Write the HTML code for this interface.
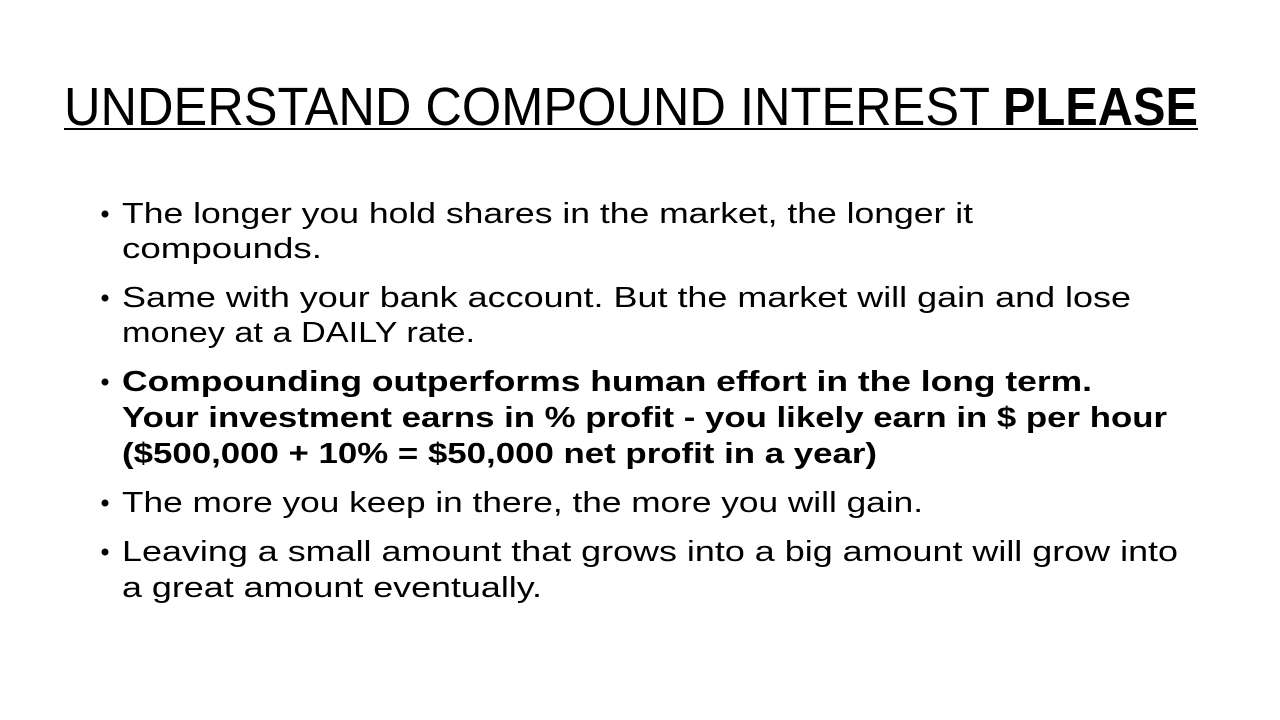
<!DOCTYPE html>
<html><head><meta charset="utf-8"><style>
html,body{margin:0;padding:0;background:#fff;width:1280px;height:720px;overflow:hidden}
svg{display:block}
text{font-family:"Liberation Sans",sans-serif;fill:#000}
</style></head><body>
<svg width="1280" height="720" viewBox="0 0 1280 720">
<rect width="1280" height="720" fill="#fff"/>
<g>
<text x="64" y="125" font-size="54" textLength="926" lengthAdjust="spacingAndGlyphs">UNDERSTAND COMPOUND INTEREST</text>
<text x="1003" y="125" font-size="54" font-weight="bold" textLength="195" lengthAdjust="spacingAndGlyphs">PLEASE</text>
<rect x="64" y="128" width="1134" height="2" fill="#000"/>
</g>
<g font-size="29">
<g>
<circle cx="105" cy="214" r="3.5" fill="#000"/>
<text x="122" y="223" textLength="851" lengthAdjust="spacingAndGlyphs">The longer you hold shares in the market, the longer it</text>
<text x="122" y="258" textLength="200" lengthAdjust="spacingAndGlyphs">compounds.</text>
</g>
<g>
<circle cx="105" cy="298" r="3.5" fill="#000"/>
<text x="122" y="307" textLength="1009" lengthAdjust="spacingAndGlyphs">Same with your bank account. But the market will gain and lose</text>
<text x="122" y="342" textLength="353" lengthAdjust="spacingAndGlyphs">money at a DAILY rate.</text>
</g>
<g font-weight="bold">
<circle cx="105" cy="382" r="3.5" fill="#000"/>
<text x="122" y="391" textLength="970" lengthAdjust="spacingAndGlyphs">Compounding outperforms human effort in the long term.</text>
<text x="122" y="427" textLength="1045" lengthAdjust="spacingAndGlyphs">Your investment earns in % profit - you likely earn in $ per hour</text>
<text x="122" y="463" textLength="755" lengthAdjust="spacingAndGlyphs">($500,000 + 10% = $50,000 net profit in a year)</text>
</g>
<g>
<circle cx="105" cy="503" r="3.5" fill="#000"/>
<text x="122" y="512" textLength="801" lengthAdjust="spacingAndGlyphs">The more you keep in there, the more you will gain.</text>
</g>
<g>
<circle cx="105" cy="552" r="3.5" fill="#000"/>
<text x="122" y="561" textLength="1056" lengthAdjust="spacingAndGlyphs">Leaving a small amount that grows into a big amount will grow into</text>
<text x="122" y="597" textLength="420" lengthAdjust="spacingAndGlyphs">a great amount eventually.</text>
</g>
</g>
</svg>
</body></html>
